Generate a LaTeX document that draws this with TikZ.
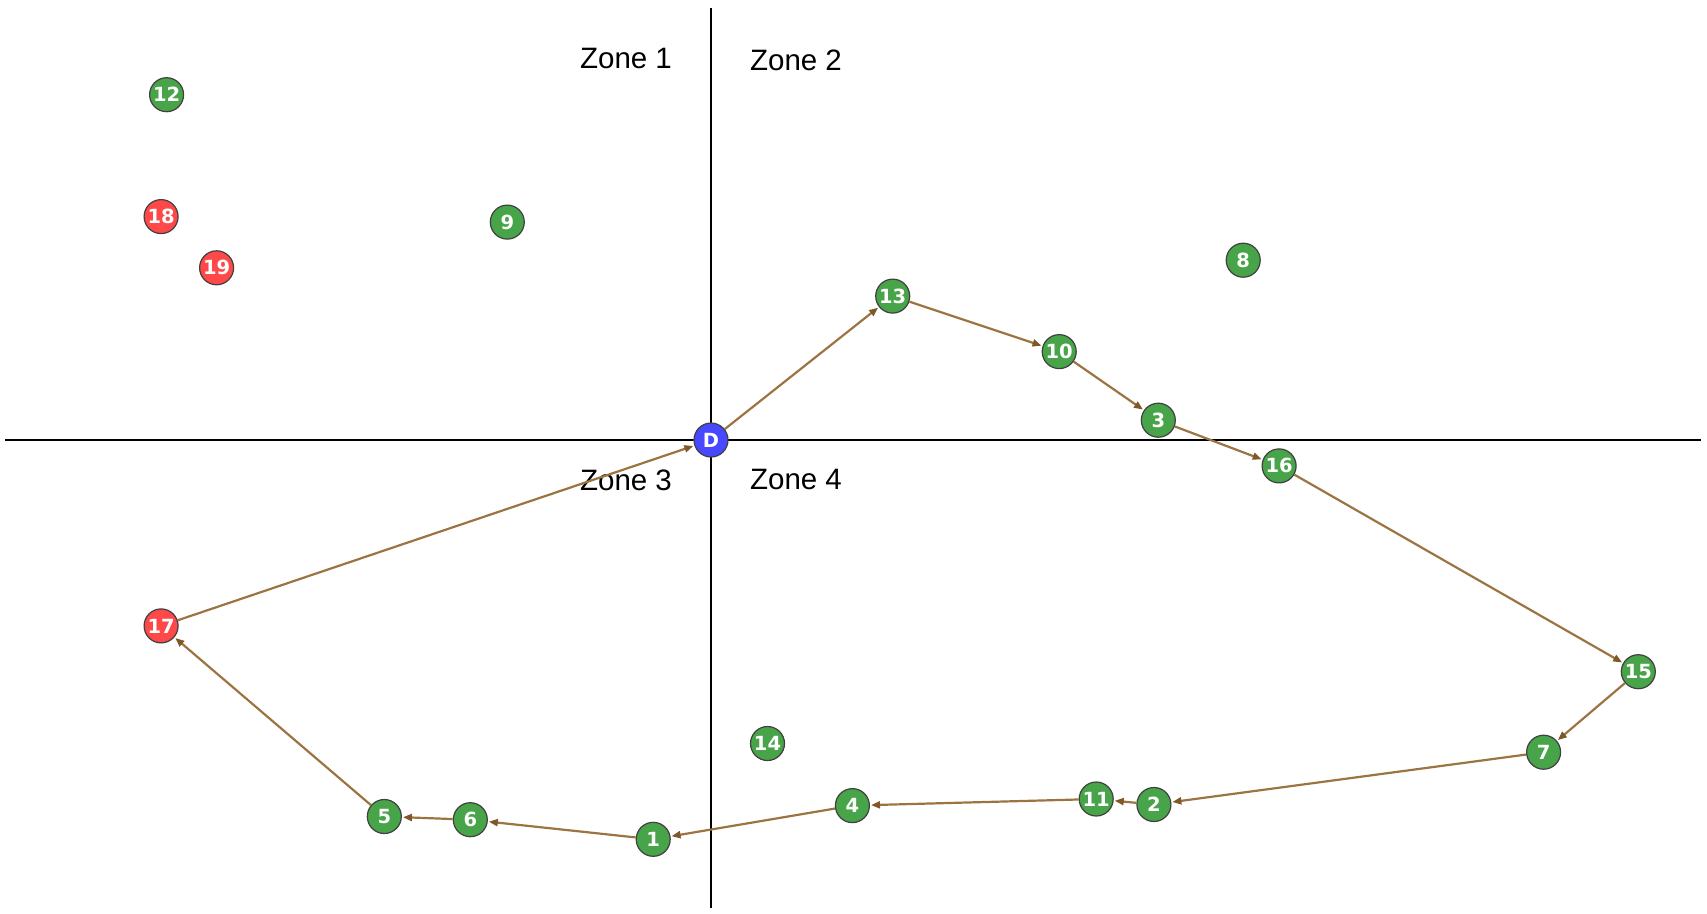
\documentclass[tikz,border=0pt]{standalone}
\usepackage{fontspec}
\setmainfont{Liberation Sans}
\newfontfamily\nodefont{DejaVu Sans}
\usetikzlibrary{arrows.meta}
\definecolor{ngreen}{RGB}{72,164,72}
\definecolor{nred}{RGB}{255,72,72}
\definecolor{nblue}{RGB}{72,72,255}
\definecolor{route}{RGB}{156,116,66}
\definecolor{routehead}{RGB}{128,88,40}
\tikzset{
  pt/.style={circle,draw=black!75,line width=1.2pt,minimum size=34pt,inner sep=0pt,text=white,font=\nodefont\bfseries\fontsize{19.5}{19.5}\selectfont},
  cust/.style={pt,fill=ngreen},
  late/.style={pt,fill=nred},
  depot/.style={pt,fill=nblue},
  axis/.style={line width=2pt,black},
  zone/.style={font=\fontsize{29.5}{29.5}\selectfont},
  edge/.style={route,line width=2.2pt,-{Triangle[length=9pt,width=7pt,color=routehead]},shorten >=1pt}
}
\begin{document}
\begin{tikzpicture}[x=1pt,y=-1pt]
\useasboundingbox (0,0) rectangle (1707,913);
\coordinate (vt) at (711,7.6);
\coordinate (vb) at (711,908);
\coordinate (hl) at (5.4,440);
\coordinate (hr) at (1701,440);
\draw[axis] (vt) -- (vb);
\draw[axis] (hl) -- (hr);
\node[zone] (z1) at (626,58) {Zone 1};
\node[zone] (z2) at (796,60) {Zone 2};
\node[zone] (z3) at (626,480) {Zone 3};
\node[zone] (z4) at (796,479) {Zone 4};
\node[cust] (n12) at (166.6,94.7) {12};
\node[late] (n18) at (161.1,216.6) {18};
\node[late] (n19) at (216.6,267.8) {19};
\node[cust] (n9) at (507.3,222.1) {9};
\node[cust] (n8) at (1243.2,260.2) {8};
\node[cust] (n13) at (892.7,296.1) {13};
\node[cust] (n10) at (1059.2,351.6) {10};
\node[cust] (n3) at (1158.3,420.2) {3};
\node[cust] (n16) at (1279.1,465.9) {16};
\node[cust] (n15) at (1638.3,671.7) {15};
\node[cust] (n7) at (1543.6,752.2) {7};
\node[cust] (n2) at (1153.9,804.5) {2};
\node[cust] (n11) at (1096.2,799.0) {11};
\node[cust] (n4) at (852.4,805.6) {4};
\node[cust] (n1) at (653.2,839.3) {1};
\node[cust] (n6) at (470.3,819.7) {6};
\node[cust] (n5) at (384.3,816.5) {5};
\node[late] (n17) at (161.1,625.9) {17};
\node[cust] (n14) at (767.5,743.5) {14};
\node[depot] (D) at (711,440) {D};
\foreach \a/\b in {D/n13,n13/n10,n10/n3,n3/n16,n16/n15,n15/n7,n7/n2,n2/n11,n11/n4,n4/n1,n1/n6,n6/n5,n5/n17,n17/D}
  \draw[edge] (\a) -- (\b);
\end{tikzpicture}
\end{document}
